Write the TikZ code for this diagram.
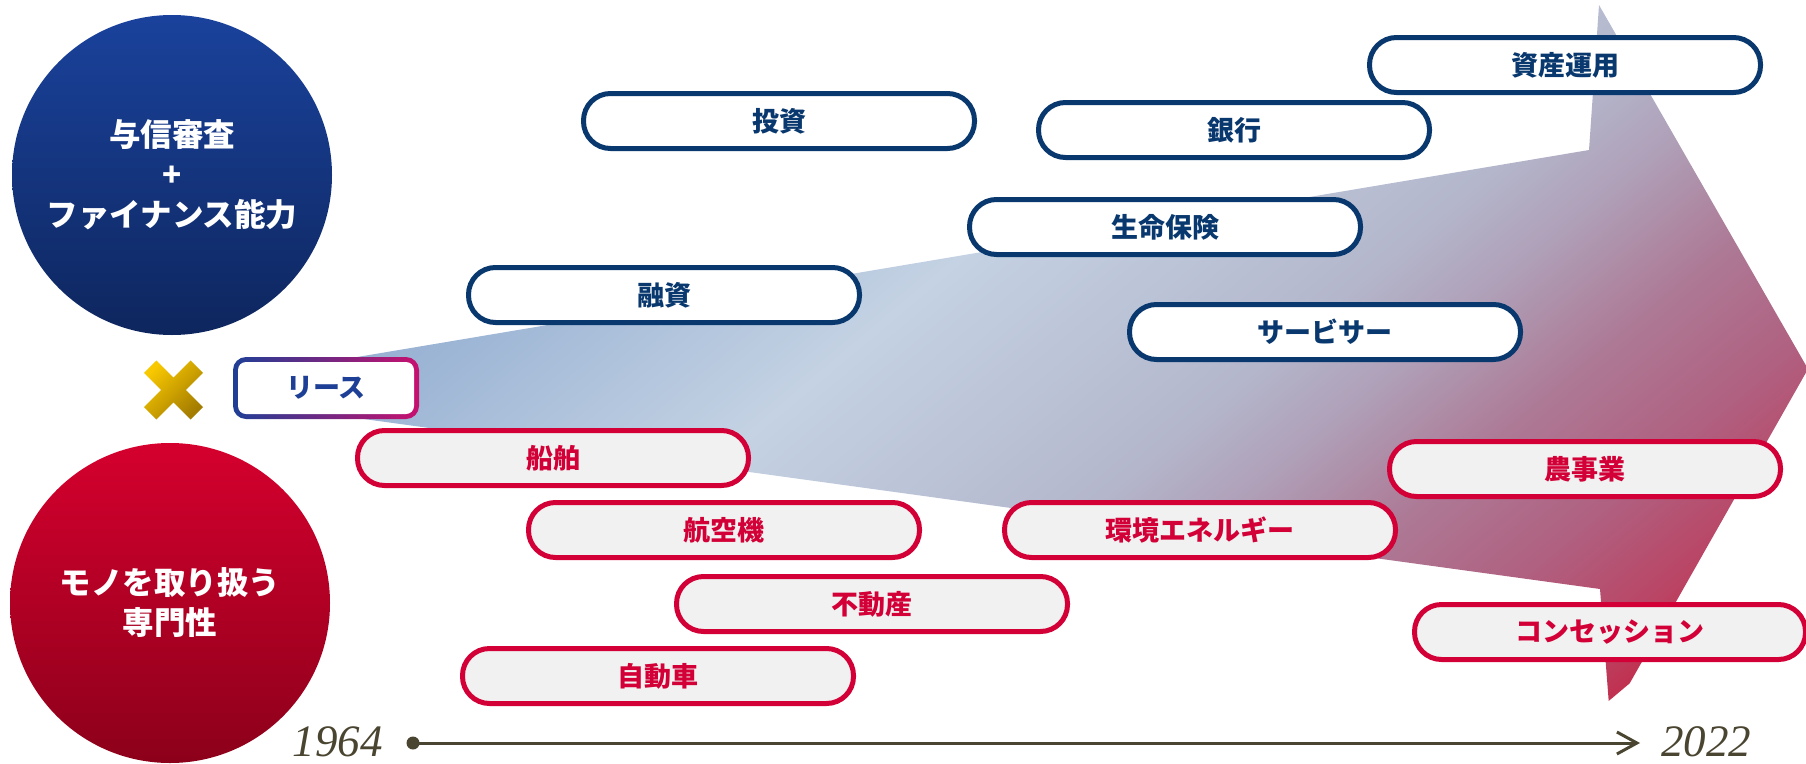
\documentclass[tikz,border=0pt]{standalone}
\usepackage{fontspec}
\newfontfamily\jp{Noto Sans CJK JP}
\newfontfamily\yearfont{Liberation Serif}
\usetikzlibrary{arrows.meta}
\definecolor{navy}{HTML}{08386E}
\definecolor{crim}{HTML}{D20036}
\definecolor{boxgray}{HTML}{F1F1F1}
\definecolor{olivet}{HTML}{4A4530}
\definecolor{leaseblue}{HTML}{1E3F96}
\definecolor{leasemag}{HTML}{C8106E}
\definecolor{a0}{HTML}{95AED1}
\definecolor{a1}{HTML}{9CB5D5}
\definecolor{a2}{HTML}{C4D2E3}
\definecolor{a3}{HTML}{B4B7CC}
\definecolor{a4}{HTML}{AFA0B8}
\definecolor{a5}{HTML}{AD7A96}
\definecolor{a6}{HTML}{B06080}
\definecolor{a7}{HTML}{BA4565}
\definecolor{a8}{HTML}{C1304F}
\definecolor{blueA}{HTML}{1A429C}
\definecolor{blueB}{HTML}{0E265E}
\definecolor{redA}{HTML}{D5002E}
\definecolor{redB}{HTML}{8C001A}
\definecolor{goldA}{HTML}{F8C800}
\definecolor{goldB}{HTML}{A47C00}
\pgfdeclarehorizontalshading{arrowshade}{100bp}{color(0bp)=(a0); color(25bp)=(a0); color(29.5bp)=(a1); color(41.3bp)=(a2); color(53.4bp)=(a3); color(57.6bp)=(a4); color(62.8bp)=(a5); color(68.3bp)=(a6); color(72.8bp)=(a7); color(75bp)=(a8); color(100bp)=(a8)}
\tikzset{
  pill/.style={rectangle, rounded corners=27pt, line width=5pt, minimum width=391pt, minimum height=55pt, inner sep=0pt, font={\jp\bfseries\fontsize{27}{30}\selectfont}},
  navybox/.style={pill, draw=navy, fill=white, text=navy},
  redbox/.style={pill, draw=crim, fill=boxgray, text=crim},
  bigcircle/.style={circle, minimum size=320pt, inner sep=0pt, shading angle=45, text=white, align=center, font={\jp\bfseries\fontsize{31.5}{40}\selectfont}},
  yearlabel/.style={inner sep=0pt, text=olivet, font={\yearfont\itshape\fontsize{45}{45}\selectfont}}
}
\begin{document}
\begin{tikzpicture}[x=1pt, y=-1pt]
\useasboundingbox (0,0) rectangle (1806,763);
% big arrow
\begin{scope}
  \clip (262,373) -- (1589,150) -- (1599,5) -- (1808,369) -- (1610,718) -- (1600,589) -- (262,405) -- cycle;
  \begin{scope}[transform canvas={rotate=-50}]
    \shade[shading=arrowshade] (448,-1600) rectangle (1571,1600);
  \end{scope}
\end{scope}
% circles
\node[bigcircle, top color=blueA, bottom color=blueB] (cred) at (172,175) {与信審査\\+\\ファイナンス能力};
\node[bigcircle, top color=redA, bottom color=redB] (mono) at (170,603) {モノを取り扱う\\専門性};
% cross mark
\shade[top color=goldA, bottom color=goldB, shading angle=45]
  (156.36,360.48) -- (173.5,377.63) -- (190.64,360.48) -- (203.02,372.86) -- (185.87,390) -- (203.02,407.14) -- (190.64,419.52) -- (173.5,402.37) -- (156.36,419.52) -- (143.98,407.14) -- (161.13,390) -- (143.98,372.86) -- cycle;
% lease box
\shade[left color=leaseblue, right color=leasemag, rounded corners=13pt] (233,357) rectangle (419,419);
\node[rectangle, rounded corners=8pt, fill=white, minimum width=176pt, minimum height=52pt, inner sep=0pt, text=leaseblue, font={\jp\bfseries\fontsize{27}{30}\selectfont}] (lease) at (326,388) {リース};
% navy boxes
\node[navybox] (toushi) at (779,121) {投資};
\node[navybox] (ginko) at (1234,130) {銀行};
\node[navybox] (shisan) at (1565,65) {資産運用};
\node[navybox] (seimei) at (1165,227) {生命保険};
\node[navybox] (yushi) at (664,295) {融資};
\node[navybox] (servicer) at (1325,332) {サービサー};
% red boxes
\node[redbox] (senpaku) at (553,458) {船舶};
\node[redbox] (kouku) at (724,530) {航空機};
\node[redbox] (kankyo) at (1200,530) {環境エネルギー};
\node[redbox] (nouji) at (1585,469) {農事業};
\node[redbox] (fudosan) at (872,604) {不動産};
\node[redbox] (concession) at (1610,632) {コンセッション};
\node[redbox] (jidosha) at (658,676) {自動車};
% timeline
\coordinate (tstart) at (413,743);
\coordinate (tend) at (1640,743);
\fill[olivet] (tstart) circle (6.5);
\draw[olivet, line width=3pt, -{Straight Barb[length=20pt, width=22pt, line width=3pt]}] (tstart) -- (tend);
\node[yearlabel, anchor=base east] (y1964) at (383,756) {1964};
\node[yearlabel, anchor=base west] (y2022) at (1661,756) {2022};
\end{tikzpicture}
\end{document}
